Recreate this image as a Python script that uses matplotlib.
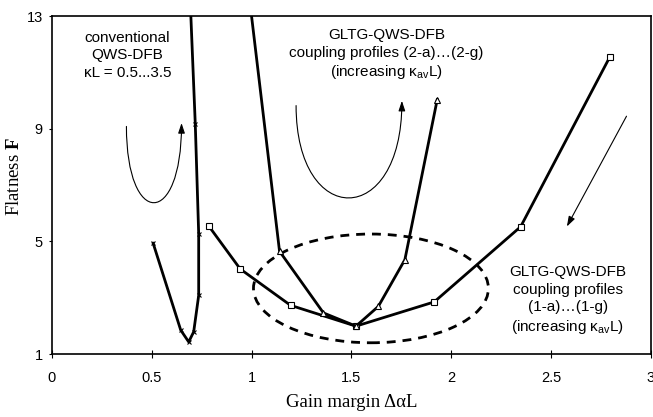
import matplotlib
matplotlib.use("Agg")
import matplotlib.pyplot as plt
from matplotlib.patches import Ellipse, FancyArrowPatch
from matplotlib.path import Path

# ---- data ----
conv_x = [0.507, 0.645, 0.685, 0.710, 0.735, 0.735, 0.718, 0.690]
conv_y = [4.93, 1.85, 1.43, 1.79, 3.08, 5.27, 9.15, 14.0]

prof1_x = [2.795, 2.348, 1.915, 1.523, 1.195, 0.943, 0.785]
prof1_y = [11.55, 5.52, 2.85, 1.99, 2.73, 4.02, 5.55]

prof2_x = [0.983, 1.140, 1.360, 1.523, 1.635, 1.768, 1.930]
prof2_y = [14.0, 4.65, 2.46, 1.99, 2.69, 4.35, 10.03]

x_ticks = [0, 0.5, 1, 1.5, 2, 2.5, 3]
x_ticklabels = ["0", "0.5", "1", "1.5", "2", "2.5", "3"]
y_ticks = [1, 5, 9, 13]

plt.rcParams['mathtext.fontset'] = 'custom'
plt.rcParams['mathtext.rm'] = 'Liberation Sans'
plt.rcParams['mathtext.it'] = 'Liberation Sans:italic'
plt.rcParams['mathtext.bf'] = 'Liberation Serif:bold'

fig = plt.figure(figsize=(6.53, 4.17), dpi=100)
ax = fig.add_axes([0.0796, 0.151, 0.917, 0.8106])

ax.set_xlim(0, 3)
ax.set_ylim(1, 13)

lw = 2.0
ax.plot(conv_x, conv_y, color='black', lw=lw, marker='x', ms=3.5, mew=0.8)
ax.plot(prof1_x, prof1_y, color='black', lw=lw, marker='s', ms=4, mfc='white', mew=0.8)
ax.plot(prof2_x, prof2_y, color='black', lw=lw, marker='^', ms=4, mfc='white', mew=0.8)

# dashed ellipse
ell = Ellipse((1.598, 3.33), 1.177, 3.86, fill=False, ls=(0, (3.2, 2.5)), lw=2, color='black')
ax.add_patch(ell)

# U-shaped arrows
def u_arrow(x0, y0, x1, y1, yb):
    yc = (8 * yb - y0 - y1) / 6.0
    path = Path([(x0, y0), (x0, yc), (x1, yc), (x1, y1)],
                [Path.MOVETO, Path.CURVE4, Path.CURVE4, Path.CURVE4])
    arr = FancyArrowPatch(path=path, arrowstyle='-|>,head_length=0.6,head_width=0.2',
                          mutation_scale=10, lw=0.8, color='black')
    ax.add_patch(arr)

u_arrow(0.373, 9.08, 0.649, 9.2, 6.38)
u_arrow(1.223, 9.82, 1.753, 9.99, 6.55)

ax.add_patch(FancyArrowPatch((2.885, 9.53), (2.573, 5.44),
                             arrowstyle='-|>,head_length=0.6,head_width=0.2',
                             mutation_scale=10, lw=0.8, color='black'))

# text annotations
tfont = dict(family='Liberation Sans', fontsize=11, ha='center', va='center',
             linespacing=1.3)
ax.text(0.378, 11.6, "conventional\nQWS-DFB\nκL = 0.5...3.5", **tfont)
ax.text(1.675, 11.62, "GLTG-QWS-DFB\ncoupling profiles (2-a)…(2-g)\n(increasing κ$_{\\mathrm{av}}$L)", **tfont)
ax.text(2.585, 2.9, "GLTG-QWS-DFB\ncoupling profiles\n(1-a)…(1-g)\n(increasing κ$_{\\mathrm{av}}$L)", **tfont)

# axes styling
ax.set_xticks(x_ticks)
ax.set_xticklabels(x_ticklabels, family='Liberation Sans', fontsize=10.5)
ax.set_yticks(y_ticks)
ax.set_yticklabels([str(v) for v in y_ticks], family='Liberation Sans', fontsize=10.5)
ax.tick_params(axis='x', direction='inout', length=6, width=0.8, pad=9)
ax.tick_params(axis='y', direction='out', length=2.5, width=0.8, pad=4)
for s in ax.spines.values():
    s.set_linewidth(1.2)

ax.set_xlabel("Gain margin ΔαL", family='Liberation Serif', fontsize=13.5)
ax.xaxis.set_label_coords(0.5, -0.118)
ax.set_ylabel("Flatness $\\mathbf{F}$", family='Liberation Serif', fontsize=13.5)
ax.yaxis.set_label_coords(-0.048, 0.525)

fig.savefig("out.png", dpi=100)
